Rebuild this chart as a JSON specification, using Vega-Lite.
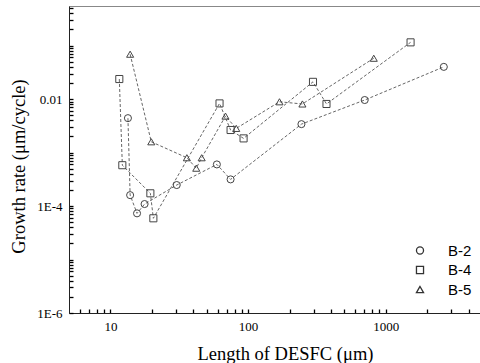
{
  "$schema": "https://vega.github.io/schema/vega-lite/v6.json",
  "width": 413,
  "height": 307,
  "autosize": {"type": "none"},
  "padding": {"left": 69, "top": 6, "right": 0, "bottom": 50},
  "background": "white",
  "config": {
    "view": {"stroke": "#888888", "strokeWidth": 1},
    "axis": {
      "domainColor": "#222222",
      "labelColor": "#000000",
      "titleColor": "#000000",
      "labelFont": "Liberation Serif",
      "titleFont": "Liberation Serif",
      "labelFontSize": 13,
      "titleFontSize": 18.5,
      "titleFontWeight": "normal",
      "grid": false,
      "labelOverlap": false,
      "labelFlush": false,
      "labelBound": false
    }
  },
  "data": {
    "values": [
      {"series": "B-2", "x": 13.4, "y": 0.0044},
      {"series": "B-2", "x": 13.9, "y": 0.00016},
      {"series": "B-2", "x": 15.6, "y": 0.000073},
      {"series": "B-2", "x": 17.7, "y": 0.000109},
      {"series": "B-2", "x": 30.3, "y": 0.000247},
      {"series": "B-2", "x": 59.3, "y": 0.0006},
      {"series": "B-2", "x": 74.6, "y": 0.000315},
      {"series": "B-2", "x": 244, "y": 0.0034},
      {"series": "B-2", "x": 703, "y": 0.0096},
      {"series": "B-2", "x": 2640, "y": 0.04},
      {"series": "B-4", "x": 11.6, "y": 0.0237},
      {"series": "B-4", "x": 12.2, "y": 0.00058},
      {"series": "B-4", "x": 19.5, "y": 0.000173},
      {"series": "B-4", "x": 20.5, "y": 0.000059},
      {"series": "B-4", "x": 62, "y": 0.0083},
      {"series": "B-4", "x": 74.6, "y": 0.00264},
      {"series": "B-4", "x": 92.7, "y": 0.00184},
      {"series": "B-4", "x": 296, "y": 0.021},
      {"series": "B-4", "x": 371, "y": 0.0081},
      {"series": "B-4", "x": 1514, "y": 0.115},
      {"series": "B-5", "x": 13.9, "y": 0.069},
      {"series": "B-5", "x": 19.8, "y": 0.00159},
      {"series": "B-5", "x": 35.9, "y": 0.0008},
      {"series": "B-5", "x": 42, "y": 0.00051},
      {"series": "B-5", "x": 46, "y": 0.0008},
      {"series": "B-5", "x": 68.5, "y": 0.0048},
      {"series": "B-5", "x": 82, "y": 0.00283},
      {"series": "B-5", "x": 169, "y": 0.0089},
      {"series": "B-5", "x": 248, "y": 0.0081},
      {"series": "B-5", "x": 818, "y": 0.058}
    ]
  },
  "encoding": {
    "x": {
      "field": "x",
      "type": "quantitative",
      "scale": {"type": "log", "domain": [5, 5000], "nice": false},
      "axis": {
        "title": "Length of DESFC (μm)",
        "values": [6, 7, 8, 9, 10, 20, 30, 40, 50, 60, 70, 80, 90, 100, 200, 300, 400, 500, 600, 700, 800, 900, 1000, 2000, 3000, 4000],
        "labelExpr": "datum.value == 10 || datum.value == 100 || datum.value == 1000 ? '' + datum.value : ''",
        "ticks": true,
        "tickColor": "black",
        "tickWidth": 1.3,
        "tickOpacity": 1,
        "tickSize": -4,
        "labelPadding": 11,
        "titleX": 216,
        "titleY": 40,
        "titleAnchor": "middle",
        "titleAlign": "center",
        "titleBaseline": "middle"
      }
    },
    "y": {
      "field": "y",
      "type": "quantitative",
      "scale": {"type": "log", "domain": [0.000001, 0.55], "nice": false},
      "axis": {
        "title": "Growth rate (μm/cycle)",
        "values": [0.000001, 0.000002, 0.000003, 0.000004, 0.000005, 0.000006, 0.000007, 0.000008, 0.000009,
                   0.00001, 0.00002, 0.00003, 0.00004, 0.00005, 0.00006, 0.00007, 0.00008, 0.00009,
                   0.0001, 0.0002, 0.0003, 0.0004, 0.0005, 0.0006, 0.0007, 0.0008, 0.0009,
                   0.001, 0.002, 0.003, 0.004, 0.005, 0.006, 0.007, 0.008, 0.009,
                   0.01, 0.02, 0.03, 0.04, 0.05, 0.06, 0.07, 0.08, 0.09,
                   0.1, 0.2, 0.3, 0.4, 0.5],
        "labelExpr": "datum.value == 0.01 ? '0.01' : datum.value == 0.0001 ? '1E-4' : datum.value == 0.000001 ? '1E-6' : ''",
        "ticks": true,
        "tickColor": "black",
        "tickWidth": 1.3,
        "tickOpacity": 1,
        "tickSize": -4,
        "labelPadding": 11,
        "titleX": -51,
        "titleY": 160,
        "titleAngle": -90,
        "titleAlign": "center",
        "titleBaseline": "middle"
      }
    }
  },
  "layer": [
    {
      "mark": {"type": "line", "stroke": "#666666", "strokeWidth": 1, "strokeDash": [3, 2]},
      "encoding": {"detail": {"field": "series", "type": "nominal"}}
    },
    {
      "mark": {"type": "point", "filled": false, "stroke": "#444444", "strokeWidth": 1, "size": 50, "opacity": 1},
      "encoding": {
        "shape": {
          "field": "series",
          "type": "nominal",
          "scale": {"domain": ["B-2", "B-4", "B-5"], "range": ["circle", "square", "triangle-up"]},
          "legend": {
            "title": null,
            "orient": "none",
            "legendX": 343.5,
            "legendY": 237,
            "padding": 0,
            "symbolStrokeColor": "#333333",
            "symbolStrokeWidth": 1.3,
            "symbolOpacity": 1,
            "symbolSize": 50,
            "labelFont": "Liberation Sans",
            "labelFontSize": 15,
            "labelColor": "#000000",
            "labelOffset": 20.5,
            "rowPadding": 3.5
          }
        }
      }
    }
  ]
}
